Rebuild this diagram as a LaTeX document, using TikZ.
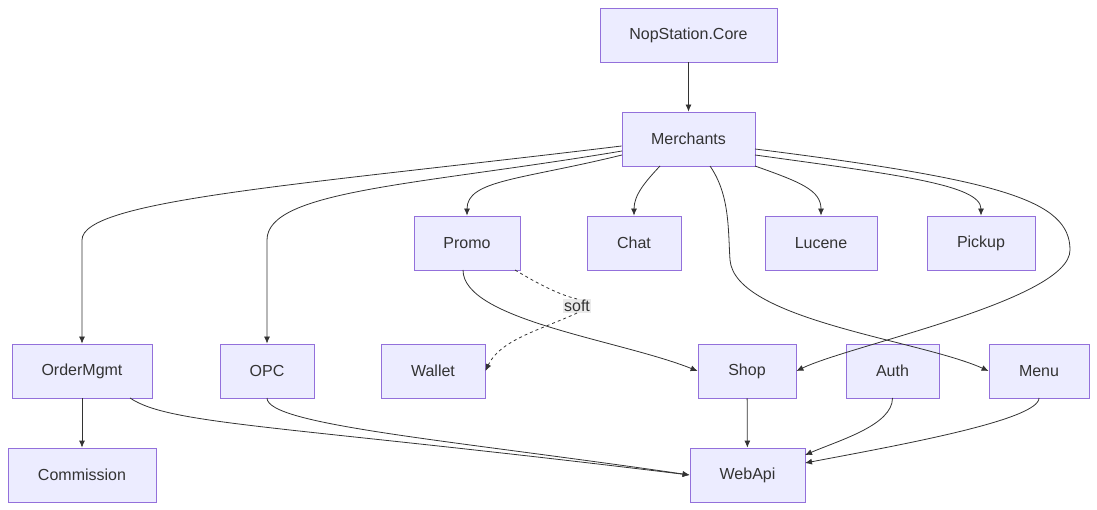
\documentclass[tikz,border=0pt]{standalone}
\usepackage{fontspec}
\setmainfont{Liberation Sans}
\usetikzlibrary{arrows.meta}
\definecolor{nfill}{HTML}{ECECFF}
\definecolor{nline}{HTML}{9370DB}
\definecolor{ink}{HTML}{333333}
\tikzset{
  box/.style={draw=nline,fill=nfill,line width=0.8pt,minimum height=54pt,inner sep=0pt,text=ink,font=\fontsize{16}{19}\selectfont},
  edge/.style={draw=ink,line width=0.8pt,-{Latex[length=7pt,width=6pt]}},
}
\begin{document}
\begin{tikzpicture}[x=1pt,y=-1pt]
\useasboundingbox (0,0) rectangle (1097,510);
\node[box,minimum width=177pt] (core) at (688.5,35) {NopStation.Core};
\node[box,minimum width=133pt] (mer) at (688.5,139) {Merchants};
\node[box,minimum width=106pt] (promo) at (467,243) {Promo};
\node[box,minimum width=94pt] (chat) at (634,243) {Chat};
\node[box,minimum width=112pt] (luc) at (821,243) {Lucene};
\node[box,minimum width=108pt] (pick) at (981,243) {Pickup};
\node[box,minimum width=140pt] (om) at (82,371) {OrderMgmt};
\node[box,minimum width=94pt] (opc) at (267,371) {OPC};
\node[box,minimum width=104pt] (wal) at (433,371) {Wallet};
\node[box,minimum width=98pt] (shop) at (747,371) {Shop};
\node[box,minimum width=93pt] (auth) at (892.5,371) {Auth};
\node[box,minimum width=100pt] (menu) at (1039,371) {Menu};
\node[box,minimum width=148pt] (com) at (82,475) {Commission};
\node[box,minimum width=115pt] (api) at (747.5,475) {WebApi};
\node[fill=black!8,text=ink,font=\fontsize{16}{19}\selectfont,inner sep=1pt] (soft) at (577,306) {soft};
\draw[edge] (core) -- (mer);
\draw[edge] (mer.west |- 0,146) .. controls (300,185) and (82,200) .. (82,240) -- (om.north);
\draw[edge] (622,151) .. controls (420,185) and (267,190) .. (267,240) -- (opc.north);
\draw[edge] (622,155) .. controls (520,180) and (467,180) .. (promo.north);
\draw[edge] (660,166) .. controls (645,182) and (634,195) .. (chat.north);
\draw[edge] (755,166) .. controls (800,182) and (821,190) .. (luc.north);
\draw[edge] (755,155) .. controls (900,175) and (981,185) .. (pick.north);
\draw[edge] (710,166) .. controls (730,195) and (728,230) .. (730,260) .. controls (735,320) and (920,340) .. (menu.west);
\draw[edge] (755,149) .. controls (1000,180) and (1070,200) .. (1070,250) .. controls (1070,300) and (850,345) .. (shop.east);
\draw[edge] (463,270) .. controls (463,320) and (620,340) .. (shop.west);
\draw[draw=ink,line width=0.8pt,dashed] (515,270) .. controls (540,285) and (560,295) .. (soft.north);
\draw[edge,dashed] (soft.south) .. controls (540,330) and (500,340) .. (wal.east);
\draw[edge] (om) -- (com);
\draw[edge] (130,398) .. controls (170,425) and (280,425) .. (api.west);
\draw[edge] (267,398) .. controls (267,425) and (450,440) .. (api.west);
\draw[edge] (shop) -- (api);
\draw[edge] (892.5,398) .. controls (892.5,425) and (840,440) .. (805,455);
\draw[edge] (1039,398) .. controls (1039,420) and (900,445) .. (805,463);
\end{tikzpicture}
\end{document}
